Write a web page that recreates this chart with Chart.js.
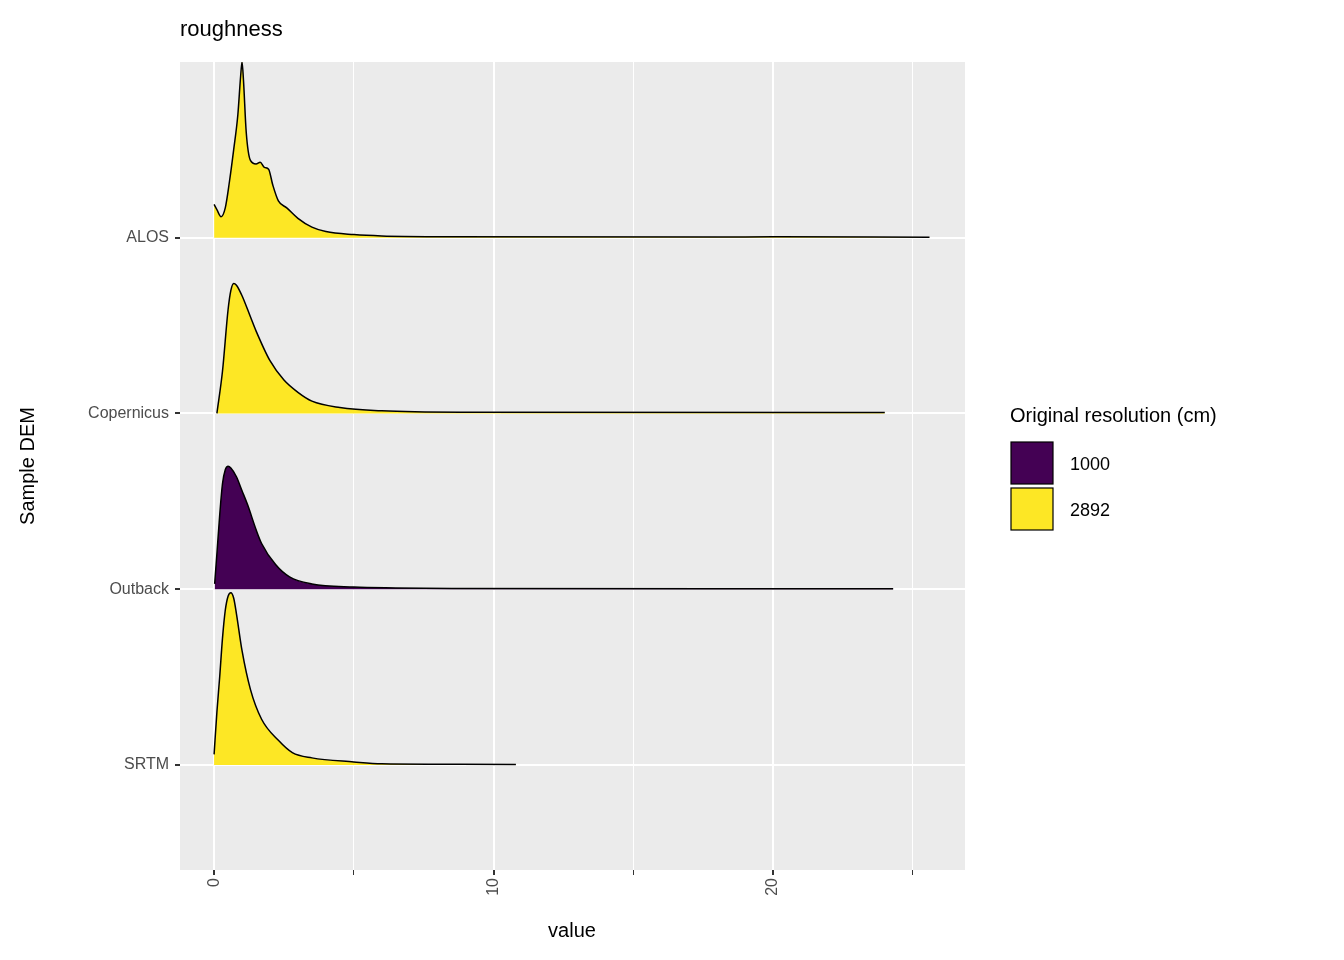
<!DOCTYPE html>
<html><head><meta charset="utf-8">
<script src="https://cdn.jsdelivr.net/npm/chart.js@4"></script>
<style>body{margin:0;background:#fff}#wrap{width:1344px;height:960px}</style>
</head><body><div id="wrap"><canvas id="c"></canvas></div>
<script>
// ridge categories, bottom to top
const dems = ["SRTM", "Outback", "Copernicus", "ALOS"];
const resolution = ["2892", "1000", "2892", "2892"];
const fills = { "1000": "#440154", "2892": "#fde725" };

// density curves, scaled height relative to row spacing
const srtmX = [0, 0.1, 0.2, 0.3, 0.4, 0.5, 0.6, 0.7, 0.8, 1.0, 1.3, 1.7, 2.3, 2.8, 3.5, 5, 6, 8, 10.8];
const srtmY = [0.06, 0.3, 0.5, 0.72, 0.88, 0.96, 0.98, 0.95, 0.86, 0.65, 0.43, 0.26, 0.14, 0.07, 0.04, 0.017, 0.006, 0.004, 0.003];
const outbackX = [0.02, 0.1, 0.2, 0.3, 0.4, 0.5, 0.6, 0.8, 1.0, 1.2, 1.5, 1.7, 2.2, 2.7, 3.5, 5, 6.5, 8.5, 24.3];
const outbackY = [0.03, 0.2, 0.42, 0.6, 0.68, 0.70, 0.69, 0.64, 0.56, 0.48, 0.34, 0.26, 0.14, 0.07, 0.03, 0.012, 0.007, 0.004, 0.003];
const copernicusX = [0.1, 0.3, 0.5, 0.6, 0.7, 0.8, 1.0, 1.3, 1.5, 2.0, 2.5, 3.0, 3.5, 4.5, 6, 9, 24];
const copernicusY = [0.0, 0.24, 0.59, 0.70, 0.74, 0.73, 0.67, 0.55, 0.47, 0.30, 0.19, 0.12, 0.07, 0.034, 0.015, 0.007, 0.005];
const alosX = [0, 0.1, 0.25, 0.4, 0.55, 0.7, 0.85, 0.95, 1.0, 1.05, 1.15, 1.3, 1.5, 1.65, 1.8, 1.95, 2.1, 2.3, 2.6, 3.0, 3.5, 4, 5, 6, 8, 18, 20, 25.6];
const alosY = [0.19, 0.16, 0.12, 0.17, 0.32, 0.5, 0.7, 0.92, 1.0, 0.9, 0.6, 0.44, 0.42, 0.43, 0.40, 0.39, 0.30, 0.21, 0.17, 0.11, 0.06, 0.035, 0.018, 0.01, 0.006, 0.004, 0.005, 0.003];

const curves = [[srtmX, srtmY], [outbackX, outbackY], [copernicusX, copernicusY], [alosX, alosY]];
const xTicks = [0, 5, 10, 15, 20, 25];

const datasets = dems.map((d, i) => ({
  label: d,
  data: curves[i][0].map((x, j) => ({ x: x, y: i + 1 + curves[i][1][j] })),
  borderColor: "#000", borderWidth: 1.5, pointRadius: 0,
  backgroundColor: fills[resolution[i]],
  fill: { value: i + 1 },
  cubicInterpolationMode: "monotone",
  order: i
}));

const decor = {
  id: "decor",
  beforeDraw(chart) {
    const { ctx, chartArea: a } = chart;
    ctx.save();
    ctx.fillStyle = "#ebebeb";
    ctx.fillRect(a.left, a.top, a.right - a.left, a.bottom - a.top);
    ctx.restore();
  },
  afterDraw(chart) {
    const ctx = chart.ctx;
    ctx.save();
    ctx.fillStyle = "#000";
    ctx.font = "22px 'Liberation Sans', Arial";
    ctx.textBaseline = "middle";
    ctx.fillText("roughness", 180, 30);
    ctx.font = "20px 'Liberation Sans', Arial";
    ctx.textAlign = "center";
    ctx.fillText("value", 572, 931);
    ctx.translate(28, 466); ctx.rotate(-Math.PI / 2);
    ctx.fillText("Sample DEM", 0, 0);
    ctx.restore();
    // legend
    ctx.save();
    ctx.font = "20px 'Liberation Sans', Arial";
    ctx.textBaseline = "middle";
    ctx.fillStyle = "#000";
    ctx.fillText("Original resolution (cm)", 1010, 416);
    ["1000", "2892"].forEach((k, i) => {
      const y = 442 + i * 46;
      ctx.fillStyle = fills[k];
      ctx.fillRect(1011, y, 42, 42);
      ctx.strokeStyle = "#000"; ctx.lineWidth = 1.2;
      ctx.strokeRect(1011, y, 42, 42);
      ctx.fillStyle = "#000";
      ctx.font = "18px 'Liberation Sans', Arial";
      ctx.fillText(k, 1070, y + 23);
    });
    ctx.restore();
  }
};

new Chart(document.getElementById("c"), {
  type: "line",
  data: { datasets: datasets },
  plugins: [decor],
  options: {
    responsive: true, maintainAspectRatio: false, animation: false,
    layout: { padding: { left: 0, right: 379, top: 62, bottom: 0 } },
    plugins: { legend: { display: false }, tooltip: { enabled: false } },
    scales: {
      x: {
        type: "linear", min: -1.22, max: 26.87,
        afterBuildTicks: s => { s.ticks = xTicks.map(v => ({ value: v })); },
        afterFit: s => { s.height = 90; },
        grid: {
          color: "#fff",
          lineWidth: c => (c.tick && c.tick.value % 10 === 0 ? 2 : 1),
          tickColor: "#333", tickLength: 5, drawTicks: true
        },
        border: { display: false },
        ticks: {
          minRotation: 90, maxRotation: 90, color: "#4d4d4d",
          font: { size: 16, family: "'Liberation Sans', Arial" },
          callback: v => (v % 10 === 0 ? String(v) : "")
        }
      },
      y: {
        type: "linear", min: 0.402, max: 5.0,
        afterBuildTicks: s => { s.ticks = [1, 2, 3, 4].map(v => ({ value: v })); },
        afterFit: s => { s.width = 180; },
        grid: { color: "#fff", lineWidth: 2, tickColor: "#333", tickLength: 5 },
        border: { display: false },
        ticks: {
          color: "#4d4d4d", padding: 6,
          font: { size: 16, family: "'Liberation Sans', Arial" },
          callback: v => dems[v - 1] || ""
        }
      }
    }
  }
});
</script></body></html>
